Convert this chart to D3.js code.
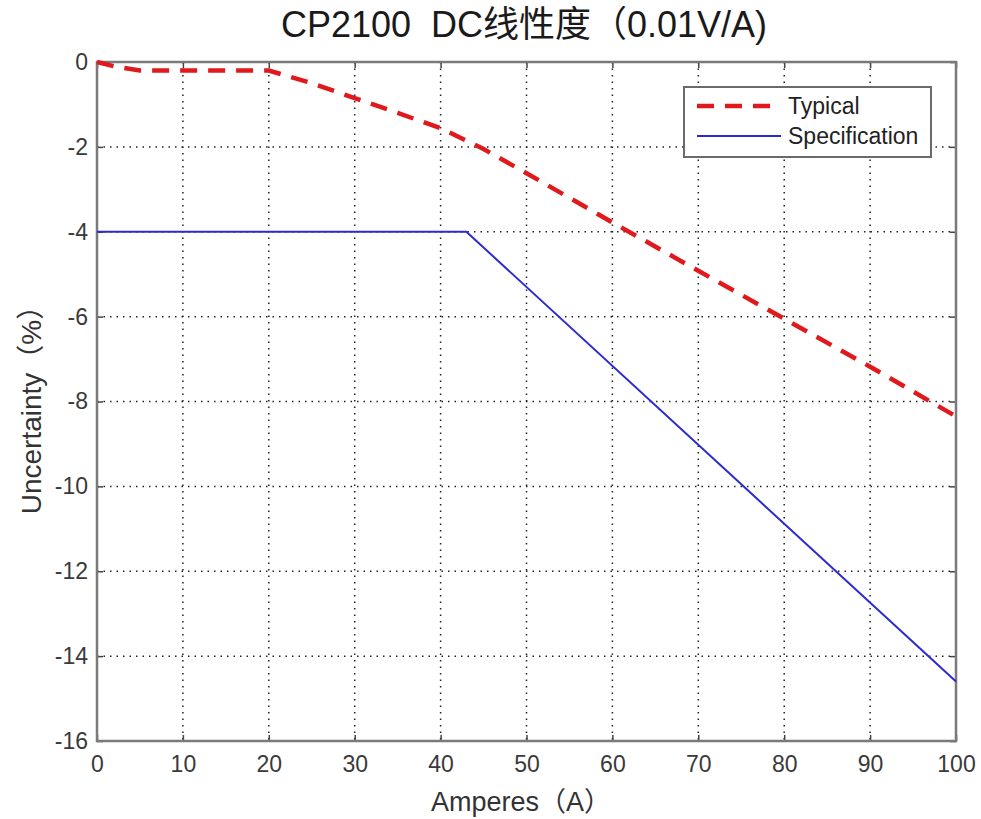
<!DOCTYPE html>
<html><head><meta charset="utf-8">
<script src="https://cdn.jsdelivr.net/npm/d3@7"></script>
<style>body{margin:0;background:#fff}</style>
</head><body>
<svg id="c" width="981" height="819"></svg>
<script>
const typicalX = [0, 2, 5, 20, 25, 30, 35, 40, 45, 50, 60, 70, 80, 90, 100];
const typicalY = [0, -0.1, -0.2, -0.2, -0.5, -0.85, -1.2, -1.56, -2.05, -2.62, -3.78, -4.92, -6.05, -7.18, -8.35];
const specX = [0, 43, 100];
const specY = [-4, -4, -14.6];
const xTicks = [0, 10, 20, 30, 40, 50, 60, 70, 80, 90, 100];
const yTicks = [0, -2, -4, -6, -8, -10, -12, -14, -16];
const seriesNames = ["Typical", "Specification"];

const svg = d3.select("#c");
const L = 97, R = 956, T = 62, B = 741;
const x = d3.scaleLinear().domain([0, 100]).range([L, R]);
const y = d3.scaleLinear().domain([-16, 0]).range([B, T]);
const font = "'Liberation Sans', Arial, sans-serif";
const cjk = "'Liberation Sans', 'Noto Sans CJK SC', sans-serif";

svg.append("rect").attr("x", L).attr("y", T).attr("width", R - L).attr("height", B - T).attr("fill", "#fff");

// grid
const grid = svg.append("g").attr("stroke", "#222").attr("stroke-width", 1.5).attr("stroke-dasharray", "1.5,5");
grid.selectAll(".gx").data(xTicks.slice(1, -1)).join("line")
  .attr("x1", d => x(d)).attr("x2", d => x(d)).attr("y1", T).attr("y2", B);
grid.selectAll(".gy").data(yTicks.slice(1, -1)).join("line")
  .attr("y1", d => y(d)).attr("y2", d => y(d)).attr("x1", L).attr("x2", R);

// axes with inward ticks
const axColor = "#7a7a7a";
function styleAxis(g) {
  g.select(".domain").remove();
  g.selectAll(".tick line").attr("stroke", "#444").attr("stroke-width", 1.5);
  g.selectAll(".tick text").attr("fill", "#3a3a3a").attr("font-family", font).attr("font-size", 23);
}
svg.append("g").attr("transform", `translate(0,${B})`)
  .call(d3.axisBottom(x).tickValues(xTicks).tickSize(-6).tickPadding(15)).call(styleAxis);
svg.append("g").attr("transform", `translate(0,${T})`)
  .call(d3.axisTop(x).tickValues(xTicks).tickSize(-6).tickFormat("")).call(styleAxis);
svg.append("g").attr("transform", `translate(${L},0)`)
  .call(d3.axisLeft(y).tickValues(yTicks).tickSize(-6).tickPadding(9).tickFormat(d => d3.format("d")(d).replace("−", "-"))).call(styleAxis);
svg.append("g").attr("transform", `translate(${R},0)`)
  .call(d3.axisRight(y).tickValues(yTicks).tickSize(-6).tickFormat("")).call(styleAxis);

svg.append("rect").attr("x", L).attr("y", T).attr("width", R - L).attr("height", B - T)
  .attr("fill", "none").attr("stroke", axColor).attr("stroke-width", 2.5);

// lines
const line = d3.line().x(d => x(d[0])).y(d => y(d[1]));
svg.append("path").datum(specX.map((v, i) => [v, specY[i]]))
  .attr("d", line).attr("fill", "none").attr("stroke", "#2b2bd0").attr("stroke-width", 2);
svg.append("path").datum(typicalX.map((v, i) => [v, typicalY[i]]))
  .attr("d", line).attr("fill", "none").attr("stroke", "#e0191c").attr("stroke-width", 4.5)
  .attr("stroke-dasharray", "17,11");

// legend
const lg = svg.append("g");
lg.append("rect").attr("x", 684).attr("y", 87).attr("width", 247).attr("height", 70)
  .attr("fill", "#fff").attr("stroke", "#6a6a6a").attr("stroke-width", 2);
lg.append("line").attr("x1", 697).attr("x2", 781).attr("y1", 106).attr("y2", 106)
  .attr("stroke", "#e0191c").attr("stroke-width", 4.5).attr("stroke-dasharray", "17,11");
lg.append("line").attr("x1", 697).attr("x2", 781).attr("y1", 136).attr("y2", 136)
  .attr("stroke", "#2b2bd0").attr("stroke-width", 2);
lg.selectAll("text").data(seriesNames).join("text")
  .attr("x", 788).attr("y", (d, i) => 114 + i * 30)
  .attr("font-family", font).attr("font-size", 23).attr("fill", "#222").text(d => d);

// titles
svg.append("text").attr("x", 524).attr("y", 37).attr("text-anchor", "middle")
  .attr("font-family", cjk).attr("font-size", 36).attr("fill", "#1a1a1a")
  .style("white-space", "pre")
  .text("CP2100  DC线性度（0.01V/A)");
svg.append("text").attr("x", 521).attr("y", 811).attr("text-anchor", "middle")
  .attr("font-family", cjk).attr("font-size", 27).attr("fill", "#333")
  .text("Amperes（A）");
svg.append("text").attr("transform", "translate(41,403) rotate(-90)").attr("text-anchor", "middle")
  .attr("font-family", cjk).attr("font-size", 28).attr("fill", "#333")
  .text("Uncertainty（%）");
</script>
</body></html>
